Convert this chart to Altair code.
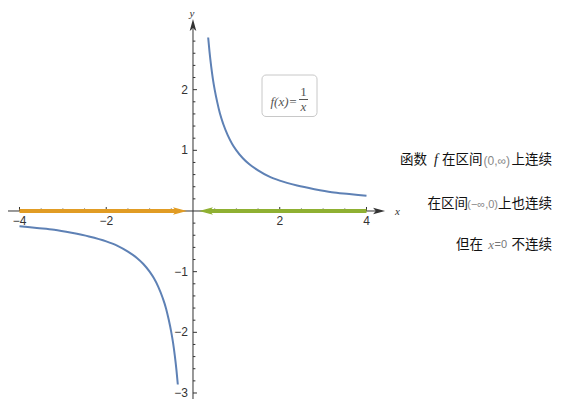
import altair as alt
import pandas as pd

# ---- data ----
right_x = [0.35, 0.38, 0.42, 0.46, 0.5, 0.56, 0.62, 0.7, 0.8, 0.9, 1.0, 1.15, 1.3, 1.5, 1.75, 2.0, 2.4, 2.8, 3.2, 3.6, 4.0]
right_y = [2.86, 2.63, 2.38, 2.17, 2.0, 1.79, 1.61, 1.43, 1.25, 1.11, 1.0, 0.87, 0.77, 0.67, 0.57, 0.5, 0.42, 0.36, 0.31, 0.28, 0.25]
left_x = [-4.0, -3.6, -3.2, -2.8, -2.4, -2.0, -1.75, -1.5, -1.3, -1.15, -1.0, -0.9, -0.8, -0.7, -0.62, -0.56, -0.5, -0.46, -0.42, -0.38, -0.35]
left_y = [-0.25, -0.28, -0.31, -0.36, -0.42, -0.5, -0.57, -0.67, -0.77, -0.87, -1.0, -1.11, -1.25, -1.43, -1.61, -1.79, -2.0, -2.17, -2.38, -2.63, -2.86]

orange_x = [-4.0, -0.30]
green_x = [4.0, 0.30]
orange_head = [-0.30]
green_head = [0.30]

x_tick_labels = [-4, -2, 2, 4]
x_minor = [-4, -3.5, -3, -2.5, -2, -1.5, -1, -0.5, 0.5, 1, 1.5, 2, 2.5, 3, 3.5, 4]
y_tick_labels = [-3, -2, -1, 1, 2]
y_minor = [round(v * 0.2, 1) for v in range(-15, 15) if v != 0]

x_axis_range = [-4.265, 4.25]
y_axis_range = [-3.1, 3.0]
x_arrow = [4.29]
y_arrow = [3.066]

xs = alt.Scale(domain=[-4.265, 8.300], nice=False, zero=False)
ys = alt.Scale(domain=[-3.099, 3.346], nice=False, zero=False)

BLUE = "#5e81b5"
ORANGE = "#e19c24"
GREEN = "#8fb032"
AX = "#333333"
LAB = "#333333"
ARROW_R = "M1,0 L-1,-0.55 L-0.55,0 L-1,0.55 Z"


def X(f="x"):
    return alt.X(f + ":Q", scale=xs, axis=None)


def Y(f="y"):
    return alt.Y(f + ":Q", scale=ys, axis=None)


# axes lines
xaxis = alt.Chart(pd.DataFrame({"x": [x_axis_range[0]], "x2": [x_axis_range[1]], "y": [0]})).mark_rule(
    color=AX, strokeWidth=1).encode(x=X(), x2="x2:Q", y=Y())
yaxis = alt.Chart(pd.DataFrame({"y": [y_axis_range[0]], "y2": [y_axis_range[1]], "x": [0]})).mark_rule(
    color=AX, strokeWidth=1).encode(y=Y(), y2="y2:Q", x=X())

# ticks
xt = pd.DataFrame({"x": x_minor, "y": [0] * len(x_minor)})
xt["y2"] = [0.066 if v in x_tick_labels else 0.04 for v in x_minor]
xticks = alt.Chart(xt).mark_rule(color=AX, strokeWidth=1).encode(x=X(), y=Y(), y2="y2:Q")
yt = pd.DataFrame({"y": y_minor, "x": [0] * len(y_minor)})
yt["x2"] = [0.092 if v in y_tick_labels else 0.055 for v in y_minor]
yticks = alt.Chart(yt).mark_rule(color=AX, strokeWidth=1).encode(y=Y(), x=X(), x2="x2:Q")

# tick labels
xl = pd.DataFrame({"x": x_tick_labels, "y": [0] * 4, "t": [str(v).replace("-", "\u2212") for v in x_tick_labels]})
xlabels = alt.Chart(xl).mark_text(font="Liberation Sans", fontSize=12, color=LAB, dy=10, baseline="middle").encode(
    x=X(), y=Y(), text="t:N")
yl = pd.DataFrame({"y": y_tick_labels, "x": [0] * 5, "t": [str(v).replace("-", "\u2212") for v in y_tick_labels]})
ylabels = alt.Chart(yl).mark_text(font="Liberation Sans", fontSize=12, color=LAB, dx=-5, align="right",
                                  baseline="middle").encode(x=X(), y=Y(), text="t:N")

# axis arrows and names
xarr = alt.Chart(pd.DataFrame({"x": x_arrow, "y": [0]})).mark_point(
    shape=ARROW_R, filled=True, size=144, color=AX, opacity=1).encode(x=X(), y=Y())
yarr = alt.Chart(pd.DataFrame({"x": [0], "y": y_arrow})).mark_point(
    shape=ARROW_R, filled=True, size=144, color=AX, opacity=1, angle=270).encode(x=X(), y=Y())
xname = alt.Chart(pd.DataFrame({"x": [0]})).mark_text(
    text="x", font="Liberation Serif", fontStyle="italic", fontSize=11, color=LAB, align="left",
    baseline="middle").encode(x=alt.value(387), y=alt.value(204))
yname = alt.Chart(pd.DataFrame({"x": [0]})).mark_text(
    text="y", font="Liberation Serif", fontStyle="italic", fontSize=11, color=LAB, align="center",
    baseline="top").encode(x=alt.value(184), y=alt.value(0))

# curves
rdf = pd.DataFrame({"x": right_x, "y": right_y})
ldf = pd.DataFrame({"x": left_x, "y": left_y})
rcurve = alt.Chart(rdf).mark_line(color=BLUE, strokeWidth=2, interpolate="monotone").encode(x=X(), y=Y())
lcurve = alt.Chart(ldf).mark_line(color=BLUE, strokeWidth=2, interpolate="monotone").encode(x=X(), y=Y())

# coloured arrows
oline = alt.Chart(pd.DataFrame({"x": [orange_x[0]], "x2": [orange_x[1]], "y": [0]})).mark_rule(
    color=ORANGE, strokeWidth=4).encode(x=X(), x2="x2:Q", y=Y())
gline = alt.Chart(pd.DataFrame({"x": [green_x[1]], "x2": [green_x[0]], "y": [0]})).mark_rule(
    color=GREEN, strokeWidth=4).encode(x=X(), x2="x2:Q", y=Y())
ohead = alt.Chart(pd.DataFrame({"x": orange_head, "y": [0]})).mark_point(
    shape=ARROW_R, filled=True, size=196, color=ORANGE, opacity=1).encode(x=X(), y=Y())
ghead = alt.Chart(pd.DataFrame({"x": green_head, "y": [0]})).mark_point(
    shape=ARROW_R, filled=True, size=196, color=GREEN, opacity=1, angle=180).encode(x=X(), y=Y())

# formula box
one = pd.DataFrame({"a": [0]})
box = alt.Chart(one).mark_rect(fill="white", stroke="#c8c8c8", strokeWidth=1, cornerRadius=4).encode(
    x=alt.value(254), x2=alt.value(309), y=alt.value(67), y2=alt.value(108.5))
fx = alt.Chart(one).mark_text(text="f(x)=", font="Liberation Serif", fontStyle="italic", fontSize=13,
                              color="#555555", align="left", baseline="middle").encode(
    x=alt.value(262.5), y=alt.value(93.5))
num = alt.Chart(one).mark_text(text="1", font="Liberation Serif", fontSize=13, color="#555555",
                               align="center", baseline="middle").encode(x=alt.value(295.5), y=alt.value(83.5))
fbar = alt.Chart(one).mark_rule(color="#555555", strokeWidth=1).encode(
    x=alt.value(291), x2=alt.value(300), y=alt.value(91.5))
den = alt.Chart(one).mark_text(text="x", font="Liberation Serif", fontStyle="italic", fontSize=13,
                               color="#555555", align="center", baseline="middle").encode(
    x=alt.value(295.5), y=alt.value(98.5))

# right-hand texts
CJK = "Noto Sans CJK SC"
CS = 13.5


def piece(txt, px, py, size=CS, color="#111111", font=CJK, style="normal", align="left"):
    return alt.Chart(one).mark_text(text=txt, font=font, fontSize=size, color=color, fontStyle=style,
                                    align=align, baseline="middle").encode(x=alt.value(px), y=alt.value(py))


texts = [
    piece("函数", 392, 152),
    piece("f", 426, 152, size=14, font="Liberation Serif", style="italic"),
    piece("在区间", 434, 152),
    piece("(0,∞)", 475.5, 153, size=12, color="#888888", font="Liberation Sans"),
    piece("上连续", 544, 152, align="right"),
    piece("在区间", 460, 196, align="right"),
    piece("(−∞,0)", 490, 197, size=11, color="#888888", font="Liberation Sans", align="right"),
    piece("上也连续", 544, 196, align="right"),
    piece("但在", 475, 237, align="right"),
    piece("x", 486, 237, size=13, color="#777777", font="Liberation Serif", style="italic", align="right"),
    piece("=0", 499, 237, size=11, color="#777777", font="Liberation Sans", align="right"),
    piece("不连续", 544, 237, align="right"),
]

chart = alt.layer(
    xaxis, yaxis, xticks, yticks, xlabels, ylabels, xarr, yarr, xname, yname,
    rcurve, lcurve, oline, gline, ohead, ghead, box, fx, num, fbar, den, *texts
).properties(
    width=545, height=391, padding=0, autosize=alt.AutoSizeParams(type="none")
).configure_view(stroke=None)

chart.save("out.html", embed_options={"renderer": "svg", "actions": False})
